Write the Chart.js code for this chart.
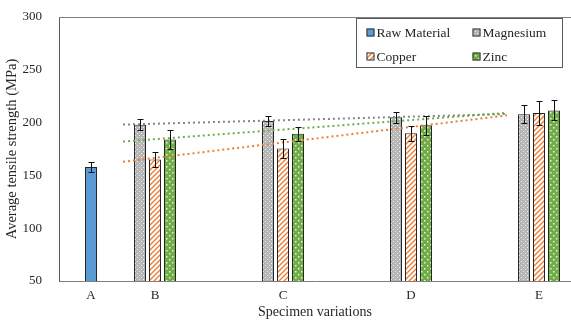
<!DOCTYPE html>
<html>
<head>
<meta charset="utf-8">
<script src="https://cdn.jsdelivr.net/npm/chart.js"></script>
<style>
  body { margin: 0; background: #fff; }
</style>
</head>
<body>
<canvas id="myChart" width="571" height="323"></canvas>
<script>
var categories = ["A", "B", "C", "D", "E"];
var rawValues = [158, null, null, null, null];
var rawErrors = [5, null, null, null, null];
var mgValues = [null, 198, 201.5, 205, 208];
var mgErrors = [null, 5, 5, 5, 8.5];
var cuValues = [null, 165, 175.5, 190, 209];
var cuErrors = [null, 7, 9, 7, 11];
var znValues = [null, 184, 189.5, 197.5, 211.5];
var znErrors = [null, 9, 6.5, 9, 9.5];
var yTicks = [50, 100, 150, 200, 250, 300];

var serif = "'Liberation Serif', 'Times New Roman', serif";
var textColor = "#262626";

// x axis of the original is uneven: A and B one slot apart, the rest two,
// so blank spacer labels go between B..E
var slotOf = categories.map(function (c, i) { return i === 0 ? 0 : 2 * i - 1; });
var nSlots = slotOf[slotOf.length - 1] + 1;
var labels = [];
for (var s = 0; s < nSlots; s++) labels.push("");
categories.forEach(function (c, i) { labels[slotOf[i]] = c; });

function spread(values) {
  var out = labels.map(function () { return null; });
  values.forEach(function (v, i) { out[slotOf[i]] = v; });
  return out;
}

// linear trendline like excel, over the points that exist
function fit(values) {
  var xs = [], ys = [];
  values.forEach(function (v, i) {
    if (v != null) { xs.push(slotOf[i]); ys.push(v); }
  });
  var n = xs.length, mx = 0, my = 0;
  for (var i = 0; i < n; i++) { mx += xs[i] / n; my += ys[i] / n; }
  var sxy = 0, sxx = 0;
  for (i = 0; i < n; i++) { sxy += (xs[i] - mx) * (ys[i] - my); sxx += (xs[i] - mx) * (xs[i] - mx); }
  var b = sxy / sxx, a = my - b * mx;
  return { x0: xs[0], x1: xs[n - 1], y0: a + b * xs[0], y1: a + b * xs[n - 1] };
}

var trends = [
  { fit: fit(mgValues), color: "#858585" },
  { fit: fit(znValues), color: "#70AD47" },
  { fit: fit(cuValues), color: "#ED7D31" }
];

function tile(size, draw) {
  var c = document.createElement("canvas");
  c.width = size; c.height = size;
  draw(c.getContext("2d"));
  return document.getElementById("myChart").getContext("2d").createPattern(c, "repeat");
}

var mgFill = tile(4, function (g) {
  g.fillStyle = "#b5b5b5"; g.fillRect(0, 0, 4, 4);
  g.fillStyle = "#f2f2f2"; g.fillRect(1, 1, 1, 1); g.fillRect(3, 3, 1, 1);
});
var cuFill = tile(5, function (g) {
  g.fillStyle = "#ffffff"; g.fillRect(0, 0, 5, 5);
  g.strokeStyle = "#ED7D31"; g.lineWidth = 1.4;
  g.beginPath();
  g.moveTo(-1, 6); g.lineTo(6, -1);
  g.moveTo(-1, 1); g.lineTo(1, -1);
  g.moveTo(4, 6); g.lineTo(6, 4);
  g.stroke();
});
var znFill = tile(6, function (g) {
  g.fillStyle = "#70AD47"; g.fillRect(0, 0, 6, 6);
  g.fillStyle = "#e8f2e0"; g.fillRect(1, 1, 1.5, 1.5); g.fillRect(4, 4, 1.5, 1.5);
});

// dotted trendlines; excel puts them half a slot left of the bars
var trendPlugin = {
  id: "trendPlugin",
  afterDatasetsDraw: function (chart) {
    var ctx = chart.ctx, x = chart.scales.x, y = chart.scales.y;
    ctx.save();
    ctx.lineWidth = 2;
    ctx.setLineDash([2, 3]);
    trends.forEach(function (t) {
      ctx.strokeStyle = t.color;
      ctx.beginPath();
      ctx.moveTo(x.getPixelForValue(t.fit.x0 - 0.5), y.getPixelForValue(t.fit.y0));
      ctx.lineTo(x.getPixelForValue(t.fit.x1 - 0.5), y.getPixelForValue(t.fit.y1));
      ctx.stroke();
    });
    ctx.restore();
  }
};

var errorBars = {
  id: "errorBars",
  afterDatasetsDraw: function (chart) {
    var ctx = chart.ctx, y = chart.scales.y;
    ctx.save();
    ctx.strokeStyle = "#111";
    ctx.lineWidth = 1;
    chart.data.datasets.forEach(function (ds, di) {
      if (!ds.errors) return;
      chart.getDatasetMeta(di).data.forEach(function (bar, i) {
        var v = ds.data[i], e = ds.errors[i];
        if (v == null || e == null) return;
        var top = Math.round(y.getPixelForValue(v + e)) + 0.5;
        var bot = Math.round(y.getPixelForValue(v - e)) + 0.5;
        var x = Math.round(bar.x) + 0.5;
        ctx.beginPath();
        ctx.moveTo(x, top); ctx.lineTo(x, bot);
        ctx.moveTo(x - 3, top); ctx.lineTo(x + 3, top);
        ctx.moveTo(x - 3, bot); ctx.lineTo(x + 3, bot);
        ctx.stroke();
      });
    });
    ctx.restore();
  }
};

// top border of the plot and the boxed legend in the top right corner
var frameLegend = {
  id: "frameLegend",
  afterDraw: function (chart) {
    var ctx = chart.ctx, area = chart.chartArea;
    ctx.save();
    ctx.strokeStyle = "#7f7f7f";
    ctx.lineWidth = 1;
    ctx.beginPath();
    ctx.moveTo(area.left, area.top + 0.5);
    ctx.lineTo(area.right, area.top + 0.5);
    ctx.stroke();

    var bx = area.right - 214.5, by = area.top + 1.5, bw = 206, bh = 49;
    ctx.fillStyle = "#fff";
    ctx.fillRect(bx, by, bw, bh);
    ctx.strokeStyle = "#595959";
    ctx.strokeRect(bx, by, bw, bh);

    ctx.font = "13.5px " + serif;
    ctx.textBaseline = "middle";
    chart.data.datasets.forEach(function (d, i) {
      var sx = bx + 10 + (i % 2) * 106;
      var sy = by + 14 + Math.floor(i / 2) * 24;
      ctx.fillStyle = d.backgroundColor;
      ctx.fillRect(sx, sy - 4, 8, 8);
      ctx.strokeStyle = "#333";
      ctx.strokeRect(sx + 0.5, sy - 3.5, 7, 7);
      ctx.fillStyle = textColor;
      ctx.fillText(d.label, sx + 10, sy + 1);
    });
    ctx.restore();
  }
};

var barBorder = "#262626";

new Chart("myChart", {
  type: "bar",
  data: {
    labels: labels,
    datasets: [
      { label: "Raw Material", data: spread(rawValues), errors: spread(rawErrors),
        backgroundColor: "#5B9BD5", borderColor: barBorder, borderWidth: 1 },
      { label: "Magnesium", data: spread(mgValues), errors: spread(mgErrors),
        backgroundColor: mgFill, borderColor: barBorder, borderWidth: 1 },
      { label: "Copper", data: spread(cuValues), errors: spread(cuErrors),
        backgroundColor: cuFill, borderColor: barBorder, borderWidth: 1 },
      { label: "Zinc", data: spread(znValues), errors: spread(znErrors),
        backgroundColor: znFill, borderColor: barBorder, borderWidth: 1 }
    ]
  },
  options: {
    responsive: false,
    animation: false,
    devicePixelRatio: 1,
    layout: { padding: { top: 17, right: 0, left: 0, bottom: 0 } },
    datasets: {
      bar: { skipNull: true, categoryPercentage: 0.703, barPercentage: 0.8, maxBarThickness: 12 }
    },
    plugins: {
      legend: { display: false },
      tooltip: { enabled: false }
    },
    scales: {
      x: {
        type: "category",
        offset: true,
        grid: { display: false, drawTicks: false },
        border: { color: "#7f7f7f" },
        ticks: { autoSkip: false, maxRotation: 0, padding: 7, color: textColor,
                 font: { family: serif, size: 13 } },
        title: { display: true, text: "Specimen variations", color: textColor,
                 font: { family: serif, size: 14 }, padding: { top: 0, bottom: 2 } },
        afterFit: function (s) { s.height = 42; }
      },
      y: {
        min: yTicks[0],
        max: yTicks[yTicks.length - 1],
        afterBuildTicks: function (s) { s.ticks = yTicks.map(function (v) { return { value: v }; }); },
        // invisible tick marks give the label gap without padding the top
        grid: { display: true, drawOnChartArea: false, drawTicks: true, tickLength: 17, color: "rgba(0,0,0,0)" },
        border: { color: "#595959" },
        ticks: { padding: 0, color: textColor, font: { family: serif, size: 13 } },
        title: { display: true, text: "Average tensile strength (MPa)", color: textColor,
                 font: { family: serif, size: 14.5 }, padding: { top: 3, bottom: 0 } },
        afterFit: function (s) { s.width = 59; }
      }
    }
  },
  plugins: [trendPlugin, errorBars, frameLegend]
});
</script>
</body>
</html>
